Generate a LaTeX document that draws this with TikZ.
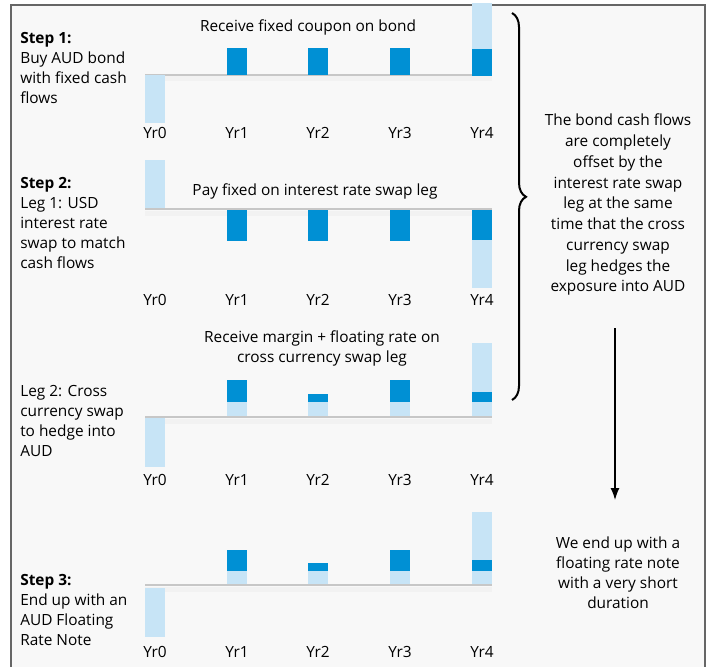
\documentclass[tikz,border=0pt]{standalone}
\usepackage{fontspec}
\setmainfont{Open Sans}
\usepackage{tikz}
\usetikzlibrary{arrows.meta,decorations.pathreplacing}

\definecolor{cfdark}{HTML}{0090D4}
\definecolor{cflight}{HTML}{C7E4F6}
\definecolor{framebg}{HTML}{F8F8F8}

\begin{document}
\begin{tikzpicture}[
    x = 1pt, y = -1pt, % pixel-like units, y pointing down
    > = {Latex[length=12pt,width=9pt]}, % arrow head style
    font = \fontsize{15.4}{20}\selectfont,
    semithick % line style
    ]

    \tikzset{
    dark/.style = {fill = cfdark},
    light/.style = {fill = cflight},
    axisline/.style = {draw = black!22, line width = 2pt},
    axisshadow/.style = {draw = black!5, line width = 5pt},
    yrlabel/.style = {anchor = base, inner sep = 0pt},
    steptext/.style = {anchor = north west, align = left, inner sep = 0pt},
    note/.style = {anchor = north, align = center, inner sep = 0pt},
    title/.style = {anchor = base, align = center, inner sep = 0pt}
    }

    \useasboundingbox (0,0) rectangle (714,666);
    \fill[white] (0,0) rectangle (714,666);
    \draw[fill = framebg, draw = black!60, line width = 2pt] (11,5) rectangle (705,690);

    % axis lines
    \foreach \ya in {75,209,417,585} {
        \draw[axisshadow] (145,\ya+4) -- (492,\ya+4);
        \draw[axisline] (145,\ya) -- (492,\ya);
    }

    % step 1 : bond
    \fill[light] (145,75) rectangle (165,123);
    \foreach \xb in {227,308,390} \fill[dark] (\xb,48) rectangle (\xb+20,75);
    \fill[light] (472,3) rectangle (492,49);
    \fill[dark] (472,49) rectangle (492,76);

    % step 2 : interest rate swap
    \fill[light] (145,160) rectangle (165,208);
    \foreach \xb in {227,308,390} \fill[dark] (\xb,210) rectangle (\xb+20,241);
    \fill[dark] (472,210) rectangle (492,240);
    \fill[light] (472,240) rectangle (492,288);

    % leg 2 : cross currency swap
    \fill[light] (145,418) rectangle (165,467);
    \foreach \xb in {227,308,390,472} \fill[light] (\xb,402) rectangle (\xb+20,416);
    \fill[dark] (227,380) rectangle (247,402);
    \fill[dark] (308,394) rectangle (328,402);
    \fill[dark] (390,380) rectangle (410,402);
    \fill[light] (472,343) rectangle (492,392);
    \fill[dark] (472,392) rectangle (492,402);

    % step 3 : floating rate note
    \fill[light] (145,588) rectangle (165,637);
    \foreach \xb in {227,308,390,472} \fill[light] (\xb,571) rectangle (\xb+20,584);
    \fill[dark] (227,550) rectangle (247,571);
    \fill[dark] (308,563) rectangle (328,571);
    \fill[dark] (390,550) rectangle (410,571);
    \fill[light] (472,512) rectangle (492,560);
    \fill[dark] (472,560) rectangle (492,571);

    % year labels
    \foreach \yl in {139,305,485,657} {
        \node[yrlabel] at (155,\yl) {Yr0};
        \node[yrlabel] at (237,\yl) {Yr1};
        \node[yrlabel] at (318,\yl) {Yr2};
        \node[yrlabel] at (400,\yl) {Yr3};
        \node[yrlabel] at (482,\yl) {Yr4};
    }

    % titles
    \node[title] (t1) at (308,32) {Receive fixed coupon on bond};
    \node[title] (t2) at (315,195) {Pay fixed on interest rate swap leg};
    \node[title] (t3) at (322,362) {Receive margin + floating rate on\\cross currency swap leg};

    % left texts
    \node[steptext] (s1) at (20,29) {\strut\textbf{Step 1:}\\Buy AUD bond\\with fixed cash\\flows};
    \node[steptext] (s2) at (20,174) {\strut\textbf{Step 2:}\\Leg 1: USD\\interest rate\\swap to match\\cash flows};
    \node[steptext] (leg2) at (20,382) {\strut Leg 2: Cross\\currency swap\\to hedge into\\AUD};
    \node[steptext] (s3) at (20,571) {\strut\textbf{Step 3:}\\End up with an\\AUD Floating\\Rate Note};

    % right notes
    \node[note, font = \fontsize{15.4}{20.75}\selectfont] (n1) at (618,111)
        {\strut The bond cash flows\\are completely\\offset by the\\interest rate swap\\leg at the same\\time that the cross\\currency swap\\leg hedges the\\exposure into AUD};
    \node[note] (n2) at (618,534) {\strut We end up with a\\floating rate note\\with a very short\\duration};

    % brace and arrow
    \coordinate (br-top) at (512,13);
    \coordinate (br-bot) at (512,400);
    \draw[line width = 2pt, decorate, decoration = {brace, amplitude = 14pt, aspect = 0.475}]
        (br-top) -- (br-bot);

    \coordinate (ar-top) at (615,328);
    \coordinate (ar-bot) at (615,500);
    \draw[->, line width = 1.3pt] (ar-top) -- (ar-bot);
\end{tikzpicture}
\end{document}
